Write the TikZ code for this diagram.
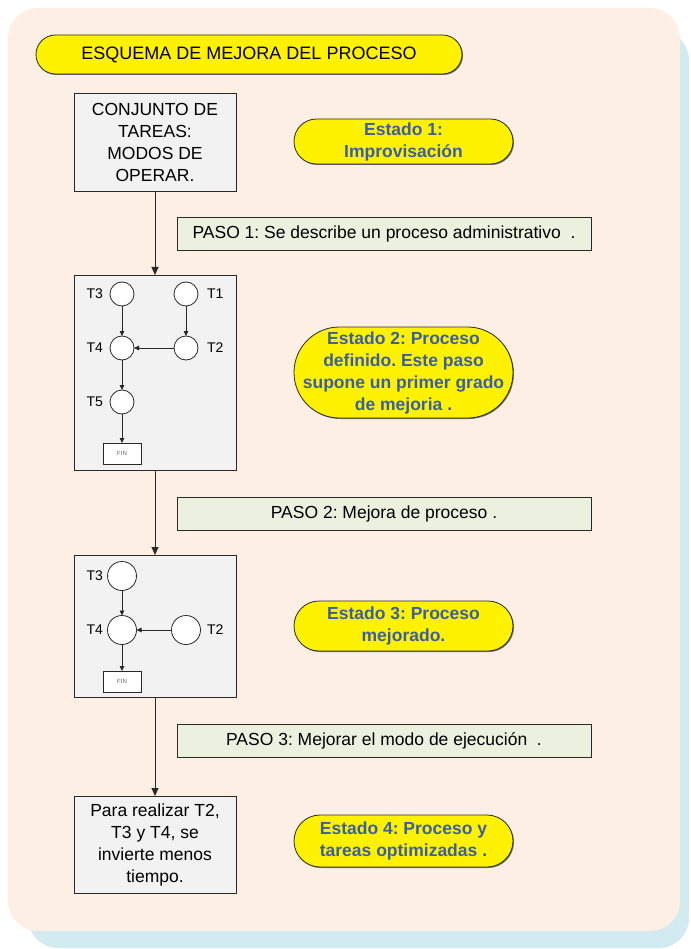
\documentclass[tikz,border=0pt]{standalone}
\usepackage{fontspec}
\setmainfont{Liberation Sans}
\usetikzlibrary{arrows.meta,shadows}
\definecolor{peach}{RGB}{253,239,228}
\definecolor{skyb}{RGB}{210,235,240}
\definecolor{boxgray}{RGB}{242,242,242}
\definecolor{pasogreen}{RGB}{235,241,222}
\definecolor{estblue}{RGB}{58,95,165}
\definecolor{edge}{RGB}{40,40,40}
\frenchspacing
\begin{document}
\begin{tikzpicture}[x=1pt,y=-1pt,
  every node/.style={inner sep=0pt, outer sep=0pt},
  txt/.style={font=\fontsize{17.5}{22}\selectfont, align=center},
  shade1/.style={drop shadow={shadow xshift=1pt,shadow yshift=-1pt,fill=black!55,opacity=1}},
  graybox/.style={txt, draw=edge, line width=0.8pt, fill=boxgray, shade1, minimum width=162pt},
  pasobox/.style={txt, draw=edge, line width=0.8pt, fill=pasogreen, shade1, minimum width=414pt, minimum height=33pt},
  estpill/.style={font=\bfseries\fontsize{17.5}{22}\selectfont, text=estblue, align=center,
     draw=edge, line width=0.8pt, fill=yellow, shade1, minimum width=219pt},
  tcirc/.style={circle, draw=edge, line width=0.8pt, fill=white},
  tlab/.style={font=\fontsize{14}{16}\selectfont},
  finbox/.style={draw=edge, line width=0.8pt, fill=white, minimum width=38pt, minimum height=21pt,
     font=\fontsize{6}{7}\selectfont, text=black!60},
  bigarrow/.style={draw=edge, line width=0.9pt, -{Triangle[length=8pt,width=7pt]}},
  smallarrow/.style={draw=edge, line width=0.8pt, -{Triangle[length=5pt,width=4.5pt]}}
]
\useasboundingbox (0,0) rectangle (690,949);
% background panels
\fill[skyb, rounded corners=30pt] (28,30) rectangle (689,948);
\fill[peach, rounded corners=30pt] (8,8) rectangle (680,931);

% title
\node[font=\fontsize{18}{22}\selectfont, draw=edge, line width=0.8pt, fill=yellow, shade1, rounded corners=19.5pt,
  minimum width=426pt, minimum height=39pt] (title) at (249,54.5) {ESQUEMA DE MEJORA DEL PROCESO};

% box 1
\node[graybox, minimum height=98pt] (b1) at (155,142) {CONJUNTO DE\\TAREAS:\\MODOS DE\\OPERAR.};
\node[estpill, rounded corners=22.5pt, minimum height=45pt] (e1) at (403.5,141.5) {Estado 1:\\Improvisación};
\node[pasobox] (p1) at (384,233.5) {PASO 1: Se describe un proceso administrativo\ \ .};

% box 2
\node[draw=edge, line width=0.8pt, fill=boxgray, shade1, minimum width=162pt, minimum height=195pt] (b2) at (155,372.5) {};
\node[tcirc, minimum size=24pt] (a3) at (122,294) {};
\node[tcirc, minimum size=24pt] (a1) at (186,294) {};
\node[tcirc, minimum size=24pt] (a4) at (122,348) {};
\node[tcirc, minimum size=24pt] (a2) at (186,348) {};
\node[tcirc, minimum size=24pt] (a5) at (122,402) {};
\node[finbox] (af) at (122,453.5) {FIN};
\node[tlab, anchor=east] (la3) at (103,294) {T3};
\node[tlab, anchor=west] (la1) at (207,294) {T1};
\node[tlab, anchor=east] (la4) at (103,348) {T4};
\node[tlab, anchor=west] (la2) at (207,348) {T2};
\node[tlab, anchor=east] (la5) at (103,402) {T5};
\draw[smallarrow] (a3) -- (a4);
\draw[smallarrow] (a1) -- (a2);
\draw[smallarrow] (a2) -- (a4);
\draw[smallarrow] (a4) -- (a5);
\draw[smallarrow] (a5) -- (af);

\node[estpill, rounded corners=45.5pt, minimum height=91pt] (e2) at (403.5,372.5)
  {Estado 2: Proceso\\definido. Este paso\\supone un primer grado\\de mejoria .};
\node[pasobox] (p2) at (384,513.5) {PASO 2: Mejora de proceso .};

% box 3
\node[draw=edge, line width=0.8pt, fill=boxgray, shade1, minimum width=162pt, minimum height=142pt] (b3) at (155,626) {};
\node[tcirc, minimum size=29pt] (c3) at (122,576) {};
\node[tcirc, minimum size=29pt] (c4) at (122,630) {};
\node[tcirc, minimum size=29pt] (c2) at (186,630) {};
\node[finbox] (cf) at (122,681.5) {FIN};
\node[tlab, anchor=east] (lc3) at (103,576) {T3};
\node[tlab, anchor=east] (lc4) at (103,630) {T4};
\node[tlab, anchor=west] (lc2) at (207,630) {T2};
\draw[smallarrow] (c3) -- (c4);
\draw[smallarrow] (c2) -- (c4);
\draw[smallarrow] (c4) -- (cf);

\node[estpill, rounded corners=25pt, minimum height=50pt] (e3) at (403.5,626) {Estado 3: Proceso\\mejorado.};
\node[pasobox] (p3) at (384,740.5) {PASO 3: Mejorar el modo de ejecución\ \ .};

% box 4
\node[graybox, minimum height=97pt] (b4) at (155,844.5) {Para realizar T2,\\T3 y T4, se\\invierte menos\\tiempo.};
\node[estpill, rounded corners=26pt, minimum height=52pt] (e4) at (403.5,841) {Estado 4: Proceso y\\tareas optimizadas .};

% main arrows
\draw[bigarrow] (b1) -- (b2);
\draw[bigarrow] (b2) -- (b3);
\draw[bigarrow] (b3) -- (b4);
\end{tikzpicture}
\end{document}
